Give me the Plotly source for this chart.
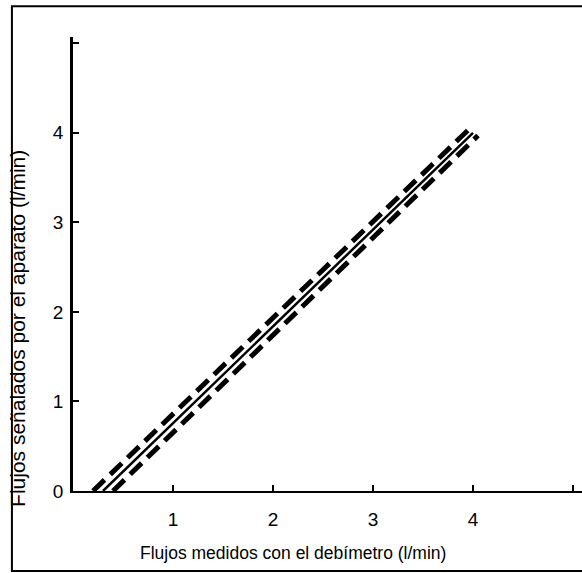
import plotly.graph_objects as go

# Data
fit_x = [0.30, 4.00]
fit_y = [0.00, 4.00]
upper_x = [0.20, 3.96]
upper_y = [0.00, 4.04]
lower_x = [0.40, 4.05]
lower_y = [0.00, 3.97]

x_ticks = [1, 2, 3, 4, 5]
x_ticktext = ["1", "2", "3", "4", ""]
y_ticks = [0, 1, 2, 3, 4, 5]
y_ticktext = ["0", "1", "2", "3", "4", ""]

x_title = "Flujos medidos con el debímetro (l/min)"
y_title = "Flujos señalados por el aparato (l/min)"

FONT = "Liberation Sans, Arial, sans-serif"

fig = go.Figure()
fig.add_trace(go.Scatter(x=fit_x, y=fit_y, mode="lines",
                         line=dict(color="black", width=2.5), showlegend=False))
fig.add_trace(go.Scatter(x=upper_x, y=upper_y, mode="lines",
                         line=dict(color="black", width=5, dash="16px,8px"), showlegend=False))
fig.add_trace(go.Scatter(x=lower_x, y=lower_y, mode="lines",
                         line=dict(color="black", width=5, dash="16px,8px"), showlegend=False))

fig.update_layout(
    width=582, height=573,
    margin=dict(l=73, r=0, t=37, b=82),
    paper_bgcolor="white", plot_bgcolor="white",
    font=dict(family=FONT, color="black", size=19),
    xaxis=dict(range=[0, 5.09], showgrid=False, zeroline=False,
               showline=True, linecolor="black", linewidth=2,
               ticks="inside", ticklen=6, tickwidth=2, tickcolor="black",
               tickvals=x_ticks, ticktext=x_ticktext, ticklabelstandoff=10,
               tickfont=dict(size=19)),
    yaxis=dict(range=[0, 5.07], showgrid=False, zeroline=False,
               showline=True, linecolor="black", linewidth=2.5,
               ticks="inside", ticklen=6, tickwidth=2, tickcolor="black",
               tickvals=y_ticks, ticktext=y_ticktext, ticklabelstandoff=3,
               tickfont=dict(size=19)),
    shapes=[dict(type="rect", xref="paper", yref="paper",
                 x0=-0.12, x1=1.05, y0=-0.176, y1=1.068,
                 line=dict(color="black", width=2), fillcolor="rgba(0,0,0,0)")],
    annotations=[
        dict(text=x_title, xref="paper", yref="paper", x=0.432, y=-0.1366,
             showarrow=False, font=dict(size=17.5), xanchor="center", yanchor="middle"),
        dict(text=y_title, xref="paper", yref="paper", x=-0.108, y=0.357,
             showarrow=False, textangle=-90, font=dict(size=21),
             xanchor="center", yanchor="middle"),
    ],
)

fig.write_html("out.html", config={"displayModeBar": False},
               post_script="document.body.style.margin='0';")
